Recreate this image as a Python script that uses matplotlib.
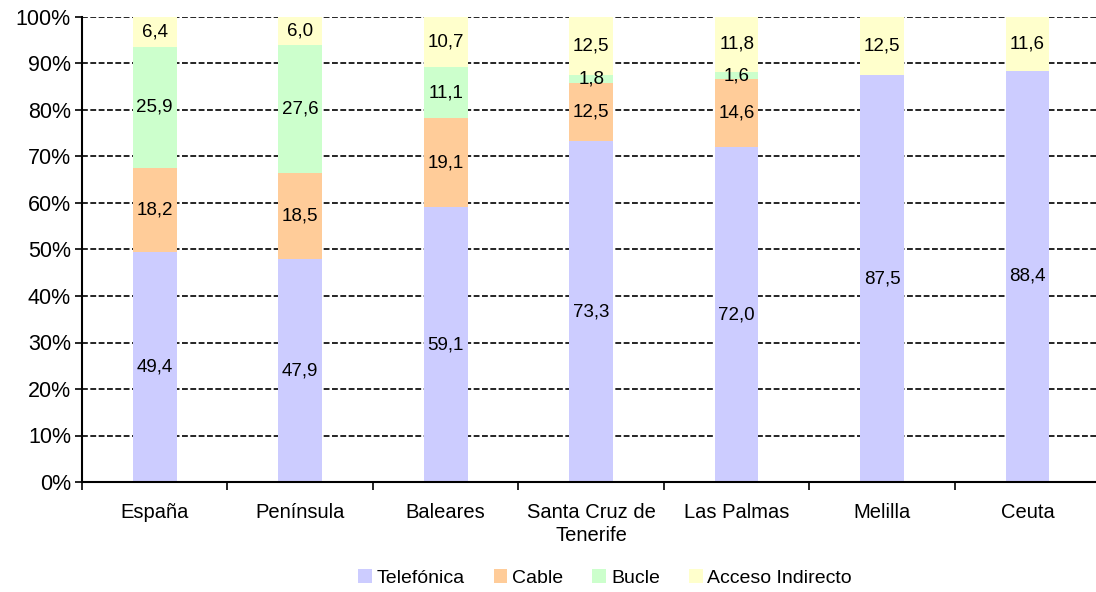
import matplotlib
matplotlib.use("Agg")
import matplotlib.pyplot as plt
import numpy as np

categories = ["España", "Península", "Baleares", "Santa Cruz de\nTenerife",
              "Las Palmas", "Melilla", "Ceuta"]
telefonica = [49.4, 47.9, 59.1, 73.3, 72.0, 87.5, 88.4]
cable = [18.2, 18.5, 19.1, 12.5, 14.6, 0.0, 0.0]
bucle = [25.9, 27.6, 11.1, 1.8, 1.6, 0.0, 0.0]
acceso = [6.4, 6.0, 10.7, 12.5, 11.8, 12.5, 11.6]

series = [("Telefónica", telefonica, "#ccccff"),
          ("Cable", cable, "#ffcc99"),
          ("Bucle", bucle, "#ccffcc"),
          ("Acceso Indirecto", acceso, "#ffffcc")]

plt.rcParams["font.family"] = ["Liberation Sans", "DejaVu Sans"]

fig = plt.figure(figsize=(10.96, 5.92), dpi=100)
ax = fig.add_axes([82 / 1096, 1 - 482 / 592, 1 - 82 / 1096, (482 - 17) / 592])

x = np.arange(len(categories))
bottom = np.zeros(len(categories))
for name, vals, color in series:
    vals = np.array(vals)
    ax.bar(x, vals, width=0.3, bottom=bottom, color=color, label=name, zorder=2)
    for xi, b, v in zip(x, bottom, vals):
        if v > 0:
            ax.text(xi, b + v / 2, f"{v:.1f}".replace(".", ","), ha="center",
                    va="center", fontsize=13.5, zorder=4)
    bottom += vals

for yv in range(10, 101, 10):
    ax.axhline(yv, color="black", lw=1.2, ls=(0, (3.5, 1.5)), zorder=1)

ax.set_xlim(-0.5, 6.47)
ax.set_ylim(0, 100)
ax.set_yticks(range(0, 101, 10))
ax.set_yticklabels([f"{v}%" for v in range(0, 101, 10)], fontsize=15.5)
ax.set_xticks(x)
ax.set_xticklabels(categories, fontsize=14.5, linespacing=1.25)
ax.tick_params(axis="x", length=0, pad=15)
ax.set_xticks(np.arange(-0.5, 6.5, 1), minor=True)
ax.tick_params(axis="x", which="minor", length=6, width=1.2, direction="out")
ax.tick_params(axis="y", length=5, width=1.2, direction="out", pad=3)

for s in ["top", "right"]:
    ax.spines[s].set_visible(False)
for s in ["left", "bottom"]:
    ax.spines[s].set_linewidth(1.5)

handles, labels = ax.get_legend_handles_labels()
fig.legend(handles, labels, loc="center", bbox_to_anchor=(605 / 1096, 1 - 578 / 592),
           ncol=4, frameon=False, fontsize=14, handlelength=0.7, handleheight=0.7,
           handletextpad=0.25, columnspacing=1.5)

fig.savefig("out.png", dpi=100)
